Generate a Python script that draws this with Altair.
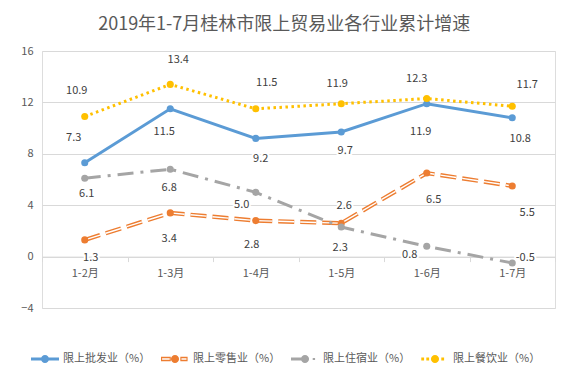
import json
import altair as alt
import pandas as pd

# ---------------- data ----------------
TITLE = "2019年1-7月桂林市限上贸易业各行业累计增速"
CATEGORIES = ["1-2月", "1-3月", "1-4月", "1-5月", "1-6月", "1-7月"]
SERIES = ["限上批发业（%）", "限上零售业（%）", "限上住宿业（%）", "限上餐饮业（%）"]
WHOLESALE = [7.3, 11.5, 9.2, 9.7, 11.9, 10.8]
RETAIL = [1.3, 3.4, 2.8, 2.6, 6.5, 5.5]
LODGING = [6.1, 6.8, 5.0, 2.3, 0.8, -0.5]
CATERING = [10.9, 13.4, 11.5, 11.9, 12.3, 11.7]
Y_TICKS = [-4, 0, 4, 8, 12, 16]

# ---------------- styling ----------------
VALUES = [WHOLESALE, RETAIL, LODGING, CATERING]
COLORS = ["#5B9BD5", "#ED7D31", "#A5A5A5", "#FFC000"]
LINE_WIDTHS = [3, 4.2, 3, 3]
DASHES = [None, [16, 6], [16, 7, 3, 7], [2.5, 3.5]]
# label offsets in pixels relative to each point (Excel-like placement)
LABEL_DX = [
    [-11, -6, 5, 4, -6, 8],
    [6, -1, -4, 3, 7, 15],
    [2, -1, -14, -1, -17, 13],
    [-8, 8, 11, -4, -10, 15],
]
LABEL_DY = [
    [-25, 23, 21, 19, 28, 21],
    [18, 26, 24, -17, 27, 27],
    [16, 19, 13, 21, 9, -5],
    [-26, -24, -26, -20, -20, -21],
]
FONT = "Noto Sans CJK SC"
TEXT_GRAY = "#595959"
GRID = "#D9D9D9"
W, H = 513, 257
Y_MIN, Y_MAX = Y_TICKS[0], Y_TICKS[-1]
N = len(CATEGORIES)
BW = W / N
PXU = H / (Y_MAX - Y_MIN)


def circle(r):
    return f"M{-r},0A{r},{r} 0 1,1 {r},0A{r},{r} 0 1,1 {-r},0Z"


def rect_cw(x0, x1, h):
    return f"M{x0},{-h}H{x1}V{h}H{x0}Z"


def rect_ccw(x0, x1, h):
    return f"M{x0},{-h}V{h}H{x1}V{-h}Z"


LEGEND_SHAPES = [
    rect_cw(-1, 1, 0.11) + circle(0.29),
    rect_cw(-1, -0.3, 0.16) + rect_ccw(-0.92, -0.38, 0.05) + circle(0.29)
    + rect_cw(0.38, 0.9, 0.16) + rect_ccw(0.46, 0.82, 0.05),
    rect_cw(-1, 0, 0.11) + circle(0.29) + rect_cw(0.55, 0.72, 0.08),
    rect_cw(-0.98, -0.78, 0.1) + rect_cw(-0.62, -0.42, 0.1) + circle(0.29)
    + rect_cw(0.45, 0.65, 0.1),
]

rows = []
for s, name in enumerate(SERIES):
    for i, cat in enumerate(CATEGORIES):
        v = VALUES[s][i]
        rows.append(dict(series=name, s=s, idx=i, pos=i + 0.5, value=v,
                         dx=LABEL_DX[s][i], dy=LABEL_DY[s][i], label=f"{v:.1f}"))
df = pd.DataFrame(rows)

x_axis = alt.Axis(
    values=list(range(N + 1)),
    labelExpr=f"{json.dumps(CATEGORIES, ensure_ascii=False)}[datum.value] || ''",
    labelOffset={"condition": {"test": f"datum.value >= {N}", "value": 0}, "value": BW / 2},
    offset=-H * (0 - Y_MIN) / (Y_MAX - Y_MIN),
    title=None, grid=False,
    domainColor=GRID, tickColor=GRID, tickSize=5,
    labelColor=TEXT_GRAY, labelFontSize=11, labelFont=FONT, labelPadding=6,
    labelOverlap=False, labelFlush=False, labelBound=False,
)
y_axis = alt.Axis(
    values=Y_TICKS, title=None, domain=False, ticks=False,
    gridColor=GRID, gridWidth=1,
    labelColor=TEXT_GRAY, labelFontSize=11, labelFont=FONT, labelPadding=9,
    minExtent=29, maxExtent=29,
)
X = alt.X("pos:Q", scale=alt.Scale(domain=[0, N], nice=False, zero=False), axis=x_axis)
Y = alt.Y("value:Q", scale=alt.Scale(domain=[Y_MIN, Y_MAX], nice=False, zero=False), axis=y_axis)

base = alt.Chart(df)
layers = []
for s in range(len(SERIES)):
    sub = base.transform_filter(f"datum.s == {s}")
    kw = dict(color=COLORS[s], strokeWidth=LINE_WIDTHS[s])
    if DASHES[s]:
        kw["strokeDash"] = DASHES[s]
    layers.append(sub.mark_line(**kw).encode(x=X, y=Y))
    if s == 1:
        layers.append(sub.mark_line(color="white", strokeWidth=1.4,
                                    strokeDash=DASHES[s]).encode(x=X, y=Y))
    layers.append(sub.mark_circle(color=COLORS[s], size=50, opacity=1).encode(x=X, y=Y))

lab = base.transform_calculate(
    xl=f"datum.pos + datum.dx / {BW}",
    yl=f"datum.value - datum.dy / {PXU}",
)
LX = alt.X("xl:Q", axis=x_axis, scale=alt.Scale(domain=[0, N], nice=False, zero=False))
LY = alt.Y("yl:Q", axis=y_axis, scale=alt.Scale(domain=[Y_MIN, Y_MAX], nice=False, zero=False))
layers.append(lab.mark_text(fontSize=11, font=FONT, color="white", stroke="white",
                            strokeWidth=4).encode(x=LX, y=LY, text="label:N"))
layers.append(lab.mark_text(fontSize=11, font=FONT, color="#404040").encode(
    x=LX, y=LY, text="label:N"))

legend = alt.Legend(
    orient="none", legendX=-11, legendY=H + 37, direction="horizontal", title=None,
    labelFont=FONT, labelFontSize=11, labelColor=TEXT_GRAY,
    symbolSize=784, symbolStrokeWidth=0, labelOffset=4, columnPadding=10,
    labelLimit=300,
)
legend_layer = base.transform_filter("false").mark_point(
    filled=True, size=784, opacity=1).encode(
    color=alt.Color("series:N", scale=alt.Scale(domain=SERIES, range=COLORS), legend=legend),
    shape=alt.Shape("series:N", scale=alt.Scale(domain=SERIES, range=LEGEND_SHAPES), legend=legend),
)
layers.append(legend_layer)

chart = alt.layer(*layers).properties(
    width=W, height=H,
    padding={"left": 5, "top": 8, "right": 5, "bottom": 0},
    title=alt.TitleParams(TITLE, fontSize=18, font=FONT, color=TEXT_GRAY,
                          fontWeight="normal", anchor="middle", frame="bounds", offset=11),
).configure_view(stroke=None).configure(background="white")

chart.save("out.html", embed_options={"renderer": "svg", "actions": False})
